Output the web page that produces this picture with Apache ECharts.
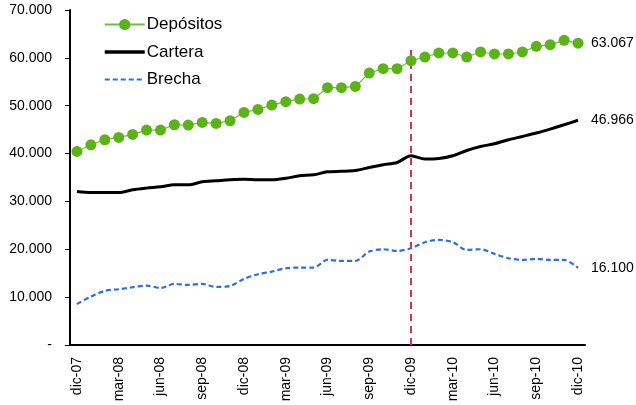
<!DOCTYPE html>
<html>
<head>
<meta charset="utf-8">
<script src="https://cdn.jsdelivr.net/npm/echarts@6/dist/echarts.min.js"></script>
<style>
  html, body { margin: 0; padding: 0; background: #fff; }
  #chart { width: 636px; height: 405px; }
</style>
</head>
<body>
<div id="chart"></div>
<script>
// meses dic-07 .. dic-10
var meses = ['dic-07','ene-08','feb-08','mar-08','abr-08','may-08','jun-08','jul-08','ago-08','sep-08','oct-08','nov-08',
  'dic-08','ene-09','feb-09','mar-09','abr-09','may-09','jun-09','jul-09','ago-09','sep-09','oct-09','nov-09',
  'dic-09','ene-10','feb-10','mar-10','abr-10','may-10','jun-10','jul-10','ago-10','sep-10','oct-10','nov-10','dic-10']

var depositos = [40440, 41840, 42890, 43370, 44000, 44910, 44910, 46020, 45960, 46510, 46300, 46860,
  48600, 49230, 50140, 50840, 51400, 51460, 53760, 53760, 54040, 56830, 57740, 57740,
  59410, 60180, 61020, 61020, 60180, 61230, 60810, 60810, 61230, 62410, 62760, 63660, 63067]

var cartera = [32070, 31860, 31860, 31860, 32430, 32780, 33050, 33470, 33470, 34100, 34310, 34520,
  34620, 34520, 34520, 34830, 35350, 35560, 36190, 36300, 36460, 37090, 37660, 38140,
  39540, 38850, 38970, 39540, 40650, 41480, 42050, 42890, 43580, 44290, 45120, 46020, 46966]

var brecha = [8580, 10110, 11300, 11650, 12070, 12410, 11920, 12760, 12550, 12760, 12130, 12340,
  13810, 14790, 15340, 16040, 16180, 16180, 17780, 17570, 17570, 19520, 20010, 19660,
  20220, 21480, 21970, 21480, 19870, 20010, 19040, 18130, 17780, 17990, 17780, 17780, 16100]

// linea vertical de corte
var corteMes = 'dic-09'
var corteTope = 62100

function miles(v) {
  if (v === 0) return '-'
  return String(Math.round(v)).replace(/\B(?=(\d{3})+(?!\d))/g, '.')
}

var chart = echarts.init(document.getElementById('chart'))
chart.setOption({
  animation: false,
  textStyle: { fontFamily: 'Liberation Sans, Arial, sans-serif' },
  grid: { left: 70, right: 51, top: 10, bottom: 60 },
  legend: {
    orient: 'vertical',
    left: 98,
    top: 11,
    itemWidth: 40,
    itemHeight: 14,
    itemGap: 10.5,
    textStyle: { fontSize: 17, color: '#000', padding: [0, 0, 0, -3] },
    data: [
      { name: 'Depósitos' },
      { name: 'Cartera', itemStyle: { opacity: 0 }, lineStyle: { width: 3.5 } },
      { name: 'Brecha', itemStyle: { opacity: 0 }, lineStyle: { width: 2 } }
    ]
  },
  xAxis: {
    type: 'category',
    data: meses,
    boundaryGap: true,
    axisLine: { lineStyle: { color: '#000', width: 2 } },
    axisTick: { interval: 2, length: 5, lineStyle: { color: '#000' } },
    axisLabel: { interval: 2, rotate: 90, fontSize: 14, color: '#000', margin: 12 }
  },
  yAxis: {
    type: 'value',
    min: 0,
    max: 70000,
    interval: 10000,
    splitLine: { show: false },
    axisLine: { show: true, lineStyle: { color: '#000', width: 2 } },
    axisTick: { show: true, length: 5, lineStyle: { color: '#000' } },
    axisLabel: { fontSize: 14, color: '#000', margin: 18, formatter: miles }
  },
  series: [
    {
      name: 'Depósitos',
      type: 'line',
      data: depositos,
      symbol: 'circle',
      symbolSize: 11,
      showAllSymbol: true,
      z: 5,
      itemStyle: { color: '#5bb318' },
      lineStyle: { color: '#6cc03a', width: 1.2 },
      endLabel: { show: true, formatter: function (p) { return miles(p.value) }, fontSize: 14, color: '#000', distance: 13 },
      markLine: {
        silent: true,
        symbol: 'none',
        z: 1,
        label: { show: false },
        lineStyle: { color: '#c8385f', type: [7, 5], width: 2 },
        data: [[{ coord: [corteMes, 0] }, { coord: [corteMes, corteTope] }]]
      }
    },
    {
      name: 'Cartera',
      type: 'line',
      data: cartera,
      smooth: 0.3,
      showSymbol: false,
      symbol: 'none',
      z: 4,
      itemStyle: { color: '#000' },
      lineStyle: { color: '#000', width: 3 },
      endLabel: { show: true, formatter: function (p) { return miles(p.value) }, fontSize: 14, color: '#000', distance: 13 }
    },
    {
      name: 'Brecha',
      type: 'line',
      data: brecha,
      smooth: 0.3,
      showSymbol: false,
      symbol: 'none',
      z: 4,
      itemStyle: { color: '#2f6fdc' },
      lineStyle: { color: '#2f6fdc', width: 2.2, type: [5, 3] },
      endLabel: { show: true, formatter: function (p) { return miles(p.value) }, fontSize: 14, color: '#000', distance: 13 }
    }
  ]
})
</script>
</body>
</html>
